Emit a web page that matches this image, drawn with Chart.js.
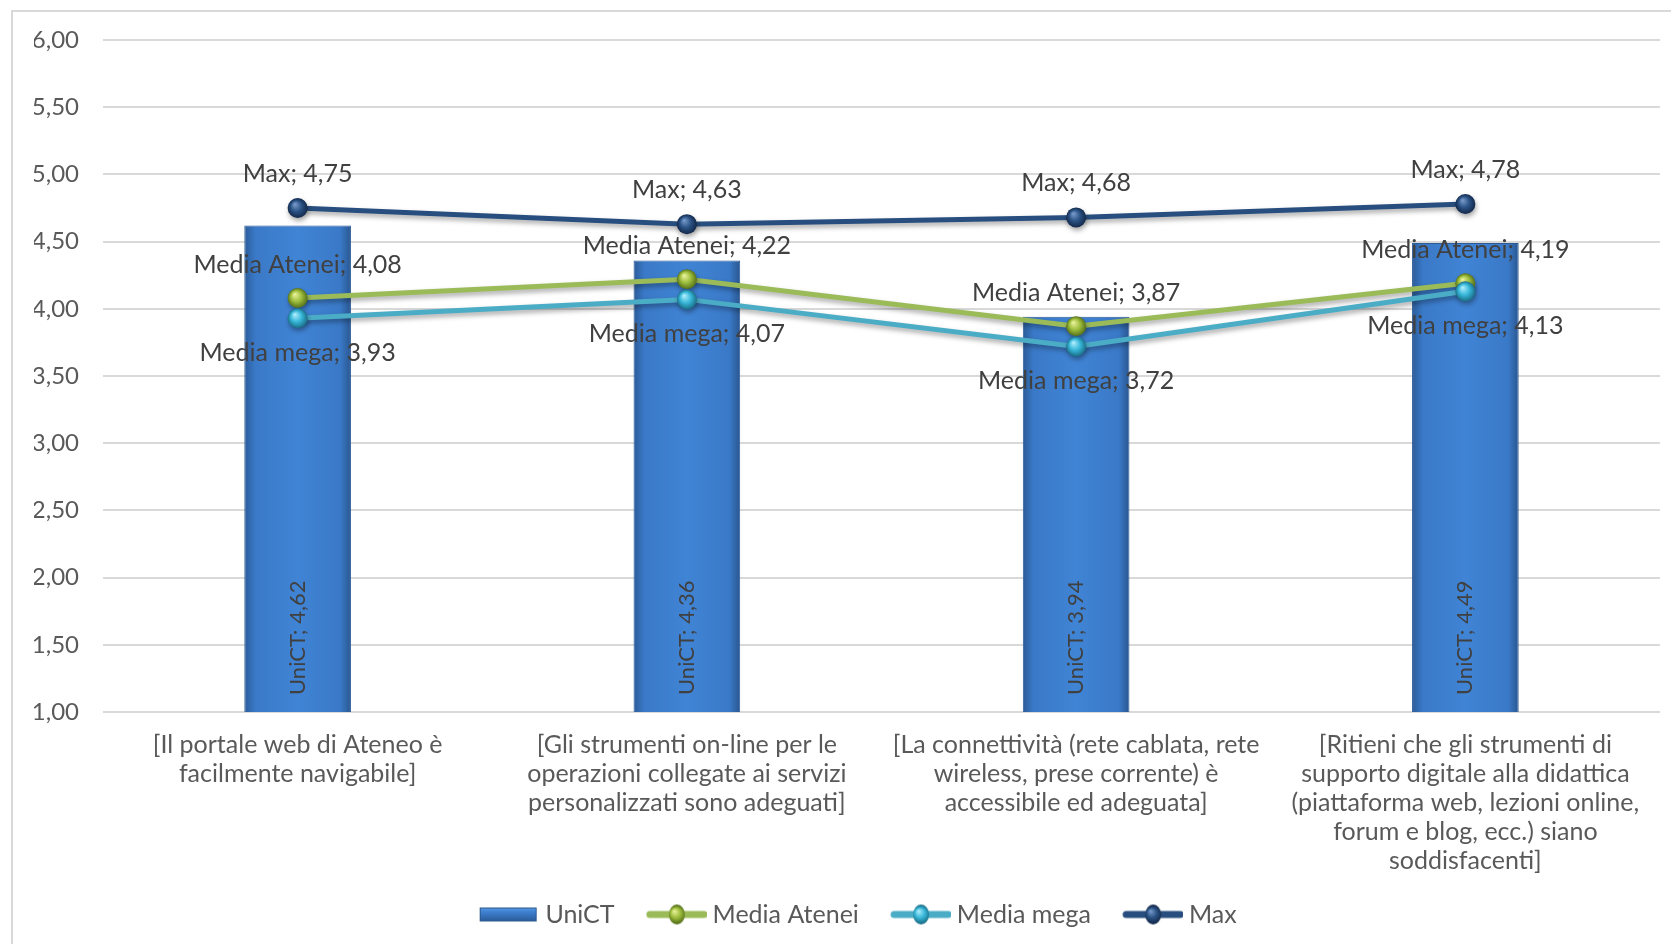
<!DOCTYPE html>
<html><head><meta charset="utf-8">
<script src="https://cdn.jsdelivr.net/npm/chart.js@4.4.1/dist/chart.umd.min.js"></script>
<style>html,body{margin:0;padding:0;background:#fff}#wrap{width:1671px;height:944px}</style>
</head><body><div id="wrap"><canvas id="c" width="1671" height="944"></canvas></div>
<script>
// ---- data ----
const categories = [
  ["[Il portale web di Ateneo è", "facilmente navigabile]"],
  ["[Gli strumenti on-line per le", "operazioni collegate ai servizi", "personalizzati sono adeguati]"],
  ["[La connettività (rete cablata, rete", "wireless, prese corrente) è", "accessibile ed adeguata]"],
  ["[Ritieni che gli strumenti di", "supporto digitale alla didattica", "(piattaforma web, lezioni online,", "forum e blog, ecc.) siano", "soddisfacenti]"]
];
const seriesNames = ["UniCT", "Media Atenei", "Media mega", "Max"];
const unict = [4.62, 4.36, 3.94, 4.49];
const mediaAtenei = [4.08, 4.22, 3.87, 4.19];
const mediaMega = [3.93, 4.07, 3.72, 4.13];
const maxVals = [4.75, 4.63, 4.68, 4.78];
const yMin = 1, yMax = 6, yStep = 0.5;

// ---- styling ----
const FONT = 'Lato';
const FS = 25;
const TFS = 24;
const RFS = 22;
const TXT = '#595959';
const LBL = '#404040';
const fmt = v => v.toFixed(2).replace('.', ',');

const ballColors = {
  "Media Atenei": ['#eef5a0', '#9dbd3c', '#55701a'],
  "Media mega": ['#b5f1ff', '#38b7d9', '#1a6f88'],
  "Max": ['#7c9fd0', '#2a5284', '#13284a']
};
const lineColors = {"Media Atenei": '#9bbb59', "Media mega": '#4bacc6', "Max": '#274e7e'};

function ballGradient(ctx, x, y, r, cols) {
  const g = ctx.createRadialGradient(x - r * 0.3, y - r * 0.4, 0, x, y, r);
  g.addColorStop(0, cols[0]);
  g.addColorStop(0.55, cols[1]);
  g.addColorStop(1, cols[2]);
  return g;
}
function barGradient(ctx, left, right) {
  const g = ctx.createLinearGradient(left, 0, right, 0);
  g.addColorStop(0, '#2b5b98');
  g.addColorStop(0.1, '#3a79c7');
  g.addColorStop(0.5, '#4084d5');
  g.addColorStop(0.9, '#3a79c7');
  g.addColorStop(1, '#295690');
  return g;
}

const BAR_PCT = 0.274;
function barBg(c) {
  const ch = c.chart, xs = ch.scales && ch.scales.x;
  if (!xs || c.dataIndex === undefined) return '#3d7fd0';
  const cx = xs.getPixelForValue(c.dataIndex);
  const hw = xs.width / categories.length * BAR_PCT / 2;
  if (!isFinite(cx) || !isFinite(hw) || hw <= 0) return '#3d7fd0';
  return barGradient(ch.ctx, cx - hw, cx + hw);
}
function pointBg(name) {
  return function (c) {
    const ch = c.chart, xs = ch.scales && ch.scales.x, ys = ch.scales && ch.scales.y;
    if (!xs || !ys || c.dataIndex === undefined) return lineColors[name];
    const v = c.dataset.data[c.dataIndex];
    const px = xs.getPixelForValue(c.dataIndex), py = ys.getPixelForValue(v);
    if (!isFinite(px) || !isFinite(py)) return lineColors[name];
    return ballGradient(ch.ctx, px, py, 10, ballColors[name]);
  };
}

// legend symbols
const SYM_B = 75.5, SYM_W = 89, SYM_H = 26, VIS = 60;
function makeSym(kind, name) {
  const cv = document.createElement('canvas');
  cv.width = SYM_W; cv.height = SYM_H;
  const ctx = cv.getContext('2d');
  const x0 = SYM_W - VIS, cy = SYM_H / 2;
  if (kind === 'bar') {
    const g = ctx.createLinearGradient(0, cy - 7, 0, cy + 7);
    g.addColorStop(0, '#5b9be0'); g.addColorStop(0.3, '#3f82d3'); g.addColorStop(1, '#2a5a96');
    ctx.fillStyle = g;
    ctx.fillRect(x0, cy - 7, 57, 14);
    ctx.strokeStyle = '#2a5890'; ctx.lineWidth = 1;
    ctx.strokeRect(x0 + 0.5, cy - 6.5, 56, 13);
  } else {
    ctx.strokeStyle = lineColors[name]; ctx.lineWidth = 7; ctx.lineCap = 'round';
    ctx.beginPath(); ctx.moveTo(x0 + 3, cy); ctx.lineTo(x0 + VIS - 3, cy); ctx.stroke();
    ctx.fillStyle = ballGradient(ctx, x0 + VIS / 2, cy, 9, ballColors[name]);
    ctx.beginPath(); ctx.ellipse(x0 + VIS / 2, cy, 8, 10, 0, 0, Math.PI * 2); ctx.fill();
  }
  return cv;
}

const framePlugin = {
  id: 'frame',
  beforeDraw(chart) {
    const ctx = chart.ctx;
    ctx.save();
    ctx.strokeStyle = '#d9d9d9'; ctx.lineWidth = 2;
    ctx.beginPath();
    ctx.moveTo(12, chart.height); ctx.lineTo(12, 11); ctx.lineTo(chart.width, 11);
    ctx.stroke();
    ctx.restore();
  }
};
const shadowPlugin = {
  id: 'lineShadow',
  beforeDatasetDraw(chart, args) {
    const ds = chart.data.datasets[args.index];
    chart.ctx.save();
    if (ds.type === 'line') {
      chart.ctx.shadowColor = 'rgba(0,0,0,0.35)';
      chart.ctx.shadowBlur = 5; chart.ctx.shadowOffsetX = 1; chart.ctx.shadowOffsetY = 3;
    }
  },
  afterDatasetDraw(chart) { chart.ctx.restore(); }
};
const labelPlugin = {
  id: 'valueLabels',
  afterDatasetsDraw(chart) {
    const ctx = chart.ctx;
    ctx.save();
    ctx.fillStyle = LBL;
    chart.data.datasets.forEach((ds, di) => {
      const meta = chart.getDatasetMeta(di);
      meta.data.forEach((el, i) => {
        const text = ds.label + '; ' + fmt(ds.data[i]);
        if (ds.type === 'bar') {
          const base = Math.min(el.base, chart.chartArea.bottom);
          ctx.save();
          ctx.font = RFS + 'px ' + FONT;
          ctx.translate(el.x, base - 17);
          ctx.rotate(-Math.PI / 2);
          ctx.textAlign = 'left'; ctx.textBaseline = 'middle';
          ctx.fillText(text, 0, 0);
          ctx.restore();
        } else {
          ctx.font = FS + 'px ' + FONT;
          ctx.textAlign = 'center'; ctx.textBaseline = 'middle';
          ctx.fillText(text, el.x, el.y + ds.labelOffset);
        }
      });
    });
    ctx.restore();
  }
};

const syms = [makeSym('bar'), makeSym('line', 'Media Atenei'), makeSym('line', 'Media mega'), makeSym('line', 'Max')];

function lineDs(label, data, order, offset) {
  return {
    type: 'line', label, data, order, labelOffset: offset,
    borderColor: lineColors[label], borderWidth: 5, tension: 0,
    pointRadius: 10, pointHoverRadius: 10, pointBorderWidth: 0,
    pointBackgroundColor: pointBg(label), fill: false
  };
}

new Chart(document.getElementById('c'), {
  data: {
    labels: categories,
    datasets: [
      { type: 'bar', label: seriesNames[0], data: unict, order: 10,
        backgroundColor: barBg, borderColor: '#2b5a94', borderWidth: 1,
        barPercentage: BAR_PCT, categoryPercentage: 1 },
      lineDs(seriesNames[1], mediaAtenei, 3, -33),
      lineDs(seriesNames[2], mediaMega, 2, 35),
      lineDs(seriesNames[3], maxVals, 1, -34)
    ]
  },
  options: {
    responsive: false, animation: false, devicePixelRatio: 1,
    events: [],
    font: { family: FONT, size: FS },
    layout: { padding: { left: 34, right: 11, top: 40, bottom: 7 } },
    scales: {
      x: {
        grid: { display: false }, border: { display: false },
        ticks: { color: TXT, font: { family: FONT, size: FS, lineHeight: 29 / FS }, maxRotation: 0, autoSkip: false, padding: 10 },
        afterFit(s) { s.height = 180; }
      },
      y: {
        min: yMin, max: yMax,
        grid: { color: '#d9d9d9', lineWidth: 2, drawTicks: false },
        border: { display: false },
        ticks: { stepSize: yStep, color: TXT, font: { family: FONT, size: TFS }, padding: 24, callback: v => fmt(v) },
        afterFit(s) { s.width = 69; }
      }
    },
    plugins: {
      tooltip: { enabled: false },
      legend: {
        position: 'bottom',
        labels: {
          usePointStyle: true, pointStyleWidth: SYM_B, boxHeight: FS, padding: 10,
          color: TXT, font: { family: FONT, size: FS },
          generateLabels(chart) {
            return chart.data.datasets.map((ds, i) => ({
              text: ds.label, pointStyle: syms[i], fillStyle: 'rgba(0,0,0,0)',
              strokeStyle: 'rgba(0,0,0,0)', lineWidth: 0, hidden: false, datasetIndex: i, fontColor: TXT
            }));
          }
        }
      }
    }
  },
  plugins: [framePlugin, shadowPlugin, labelPlugin]
});
</script>
</body></html>
